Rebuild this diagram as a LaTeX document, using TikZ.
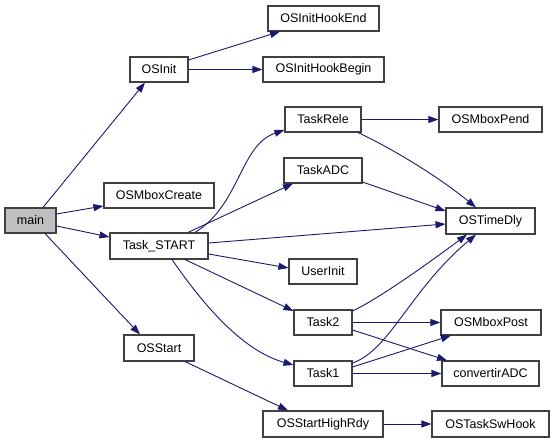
\documentclass[tikz,border=0pt]{standalone}
\usepackage{fontspec}
\setmainfont{Liberation Sans}
\usetikzlibrary{arrows.meta}
\definecolor{edgecol}{HTML}{191970}
\definecolor{boxline}{HTML}{404040}
\definecolor{mainfill}{HTML}{BFBFBF}
\begin{document}
\begin{tikzpicture}[x=1pt,y=-1pt,
  fn/.style={draw=boxline,line width=1.1pt,fill=white,inner sep=0pt,font=\fontsize{12.5}{14}\selectfont,minimum height=25pt},
  call/.style={draw=edgecol,line width=0.9pt,-{Triangle[length=10pt,width=7pt]}}]
\useasboundingbox (0,0) rectangle (555,443);
% nodes
\node[fn,fill=mainfill,minimum width=51pt] (main) at (30.5,220.5) {main};
\node[fn,minimum width=58pt] (OSInit) at (159,69.5) {OSInit};
\node[fn,minimum width=110pt] (OSMboxCreate) at (159,195.5) {OSMboxCreate};
\node[fn,minimum width=98pt,minimum height=26pt] (TaskSTART) at (159,246) {Task\_START};
\node[fn,minimum width=70pt,minimum height=26pt] (OSStart) at (159,348) {OSStart};
\node[fn,minimum width=111pt] (OSInitHookEnd) at (323.5,18.5) {OSInitHookEnd};
\node[fn,minimum width=121pt] (OSInitHookBegin) at (323.5,69.5) {OSInitHookBegin};
\node[fn,minimum width=76pt] (TaskRele) at (323,119.5) {TaskRele};
\node[fn,minimum width=78pt] (TaskADC) at (323,170.5) {TaskADC};
\node[fn,minimum width=103pt] (OSMboxPend) at (490.5,119.5) {OSMboxPend};
\node[fn,minimum width=89pt,minimum height=26pt] (OSTimeDly) at (490.5,221) {OSTimeDly};
\node[fn,minimum width=68pt] (UserInit) at (323,271.5) {UserInit};
\node[fn,minimum width=58pt] (Task2) at (323,322.5) {Task2};
\node[fn,minimum width=58pt] (Task1) at (323,373.5) {Task1};
\node[fn,minimum width=100pt] (OSMboxPost) at (491,322.5) {OSMboxPost};
\node[fn,minimum width=97pt] (convertirADC) at (490.5,373.5) {convertirADC};
\node[fn,minimum width=120pt,minimum height=26pt] (OSStartHighRdy) at (323,424) {OSStartHighRdy};
\node[fn,minimum width=117pt,minimum height=26pt] (OSTaskSwHook) at (490.5,424) {OSTaskSwHook};
% edges from main
\draw[call] ([xshift=12.5pt]main.north) -- ([xshift=-14pt]OSInit.south);
\draw[call] ([yshift=6.5pt]main.east) -- ([yshift=-10.5pt]OSMboxCreate.west);
\draw[call] ([yshift=-5.5pt]main.east) -- ([yshift=9pt]TaskSTART.west);
\draw[call] ([xshift=14.5pt]main.south) -- ([xshift=-19pt]OSStart.north);
% OSInit
\draw[call] ([yshift=9.5pt]OSInit.east) -- ([xshift=-43.5pt]OSInitHookEnd.south);
\draw[call] (OSInit.east) -- (OSInitHookBegin.west);
% Task_START
\draw[call] ([xshift=36pt]TaskSTART.north) .. controls (240,205) and (240,145) .. ([yshift=-10.5pt]TaskRele.west);
\draw[call] ([xshift=29pt]TaskSTART.north) -- ([xshift=-30pt]TaskADC.south);
\draw[call] ([yshift=3pt]TaskSTART.east) -- ([yshift=-3pt]OSTimeDly.west);
\draw[call] ([yshift=-8pt]TaskSTART.east) -- ([yshift=3.5pt]UserInit.west);
\draw[call] ([xshift=26pt]TaskSTART.south) -- ([yshift=11.5pt]Task2.west);
\draw[call] ([xshift=13pt]TaskSTART.south) .. controls (200,300) and (240,350) .. ([yshift=8.5pt]Task1.west);
% TaskRele, TaskADC
\draw[call] (TaskRele.east) -- (OSMboxPend.west);
\draw[call] ([xshift=35pt]TaskRele.south) .. controls (395,150) and (440,178) .. ([xshift=-14.5pt]OSTimeDly.north);
\draw[call] ([yshift=-11.5pt]TaskADC.east) -- ([yshift=10pt]OSTimeDly.west);
% Task2
\draw[call] ([yshift=11.5pt]Task2.east) .. controls (380,298) and (430,262) .. ([xshift=-23.5pt]OSTimeDly.south);
\draw[call] (Task2.east) -- (OSMboxPost.west);
\draw[call] ([yshift=-7.5pt]Task2.east) -- ([xshift=-43.5pt]convertirADC.north);
% Task1
\draw[call] ([yshift=10.5pt]Task1.east) .. controls (390,350) and (410,290) .. ([xshift=-14.5pt]OSTimeDly.south);
\draw[call] ([yshift=6.5pt]Task1.east) -- ([xshift=-40pt]OSMboxPost.south);
\draw[call] (Task1.east) -- (convertirADC.west);
% OSStart
\draw[call] ([xshift=26pt]OSStart.south) -- ([xshift=-35pt]OSStartHighRdy.north);
\draw[call] (OSStartHighRdy.east) -- (OSTaskSwHook.west);
\end{tikzpicture}
\end{document}
